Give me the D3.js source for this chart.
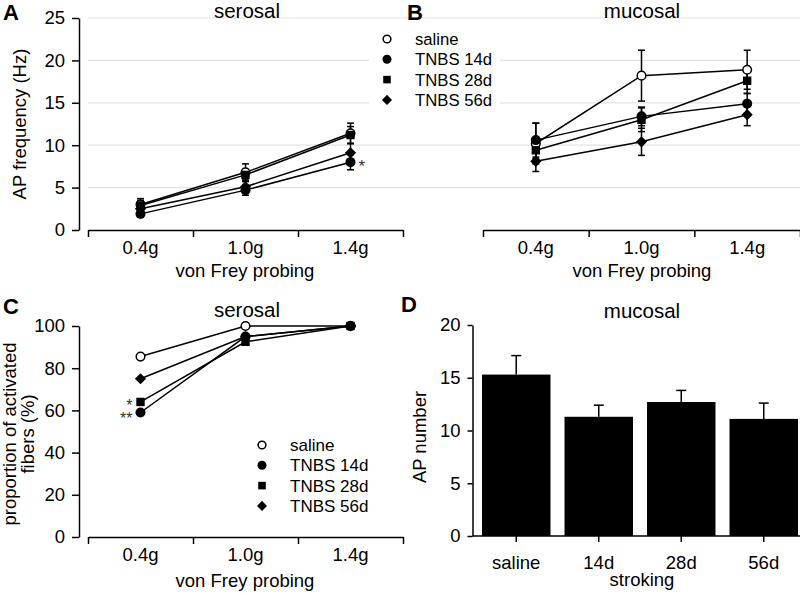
<!DOCTYPE html>
<html>
<head>
<meta charset="utf-8">
<script src="https://cdn.jsdelivr.net/npm/d3@7"></script>
<style>
  html, body { margin: 0; padding: 0; background: #fff; }
  svg { display: block; font-family: "Liberation Sans", Arial, sans-serif; }
</style>
</head>
<body>
<svg id="chart" width="800" height="593"></svg>
<script>
// ---------- DATA ----------
const probeCats = ["0.4g", "1.0g", "1.4g"];
const groupNames = ["saline", "TNBS 14d", "TNBS 28d", "TNBS 56d"];
const groupShapes = ["openCircle", "circle", "square", "diamond"];

// Panel A: serosal AP frequency (Hz)
const aSaline = [3.0, 6.8, 11.4];
const aSalineErr = [0.7, 1.0, 1.2];
const aTnbs14 = [1.9, 4.7, 8.0];
const aTnbs14Err = [0.4, 0.6, 0.9];
const aTnbs28 = [2.9, 6.5, 11.2];
const aTnbs28Err = [0.6, 0.5, 1.0];
const aTnbs56 = [2.5, 5.1, 9.1];
const aTnbs56Err = [0.5, 0.6, 1.1];

// Panel B: mucosal AP frequency (Hz)
const bSaline = [10.2, 18.2, 18.9];
const bSalineErr = [2.4, 3.0, 2.3];
const bTnbs14 = [10.6, 13.4, 14.9];
const bTnbs14Err = [2.0, 1.1, 1.2];
const bTnbs28 = [9.4, 13.0, 17.6];
const bTnbs28Err = [1.0, 1.4, 1.5];
const bTnbs56 = [8.1, 10.4, 13.6];
const bTnbs56Err = [1.2, 1.6, 1.3];

// Panel C: proportion of activated fibers (%)
const cSaline = [85.5, 100, 100];
const cTnbs14 = [59, 95, 100];
const cTnbs28 = [64, 92.5, 100];
const cTnbs56 = [75, 95, 100];

// Panel D: mucosal stroking AP number
const dCats = ["saline", "14d", "28d", "56d"];
const dValues = [15.3, 11.3, 12.7, 11.1];
const dErr = [1.8, 1.1, 1.1, 1.5];

const freqTicks = [0, 5, 10, 15, 20, 25];
const propTicks = [0, 20, 40, 60, 80, 100];
const apTicks = [0, 5, 10, 15, 20];

// ---------- DRAWING ----------
const svg = d3.select("#chart");
const FONT = 18.5;
const gridColor = "#e4e4e4";

function marker(g, shape, x, y, size) {
  const s = size || 1;
  if (shape === "openCircle") {
    g.append("circle").attr("cx", x).attr("cy", y).attr("r", 4.3 * s)
      .attr("fill", "#fff").attr("stroke", "#000").attr("stroke-width", 1.5);
  } else if (shape === "circle") {
    g.append("circle").attr("cx", x).attr("cy", y).attr("r", 5 * s).attr("fill", "#000");
  } else if (shape === "square") {
    const h = 4.2 * s;
    g.append("rect").attr("x", x - h).attr("y", y - h).attr("width", 2 * h).attr("height", 2 * h).attr("fill", "#000");
  } else {
    const h = 5.6 * s;
    g.append("path").attr("d", `M${x},${y - h}L${x + h},${y}L${x},${y + h}L${x - h},${y}Z`).attr("fill", "#000");
  }
}

function styleAxis(g) {
  g.selectAll("path.domain").attr("stroke", "#000").attr("stroke-width", 1.5);
  g.selectAll(".tick line").attr("stroke", "#000").attr("stroke-width", 1.5);
  g.selectAll(".tick text").attr("font-size", FONT).attr("fill", "#000")
    .attr("font-family", '"Liberation Sans", Arial, sans-serif');
}

// Category x-axis with boundary ticks
function catAxis(x0, x1, yPos, cats) {
  const band = d3.scaleBand().domain(cats).range([x0, x1]).padding(0);
  const bounds = d3.scaleLinear().domain([0, cats.length]).range([x0, x1]);
  const gb = svg.append("g").attr("transform", `translate(0,${yPos})`)
    .call(d3.axisBottom(bounds).tickValues(d3.range(cats.length + 1)).tickFormat("").tickSize(7).tickSizeOuter(0));
  styleAxis(gb);
  const gl = svg.append("g").attr("transform", `translate(0,${yPos})`)
    .call(d3.axisBottom(band).tickSize(0).tickPadding(11));
  gl.select("path.domain").remove();
  styleAxis(gl);
  return band;
}

function yAxis(xPos, y, ticks, tickSize) {
  const g = svg.append("g").attr("transform", `translate(${xPos},0)`)
    .call(d3.axisLeft(y).tickValues(ticks).tickSize(tickSize).tickPadding(7).tickSizeOuter(0));
  styleAxis(g);
}

function text(x, y, str, opts) {
  const o = opts || {};
  const t = svg.append("text").attr("x", x).attr("y", y).text(str)
    .attr("font-size", o.size || FONT).attr("fill", o.fill || "#000")
    .attr("text-anchor", o.anchor || "start");
  if (o.bold) t.attr("font-weight", "bold");
  if (o.rotate) t.attr("transform", `rotate(-90,${x},${y})`);
  return t;
}

function lineSeries(band, y, seriesList, errList, cats) {
  const cx = c => band(c) + band.bandwidth() / 2;
  const line = d3.line().x((d, i) => cx(cats[i])).y(d => y(d));
  const g = svg.append("g");
  seriesList.forEach(vals => {
    g.append("path").attr("d", line(vals)).attr("fill", "none").attr("stroke", "#000").attr("stroke-width", 1.5);
  });
  if (errList) {
    seriesList.forEach((vals, si) => {
      vals.forEach((v, i) => {
        const e = errList[si][i];
        const x = cx(cats[i]);
        g.append("line").attr("x1", x).attr("x2", x).attr("y1", y(v - e)).attr("y2", y(v + e))
          .attr("stroke", "#000").attr("stroke-width", 1.5);
        [v - e, v + e].forEach(ev => {
          g.append("line").attr("x1", x - 3.5).attr("x2", x + 3.5).attr("y1", y(ev)).attr("y2", y(ev))
            .attr("stroke", "#000").attr("stroke-width", 1.5);
        });
      });
    });
  }
  seriesList.forEach((vals, si) => {
    vals.forEach((v, i) => marker(g, groupShapes[si], cx(cats[i]), y(v)));
  });
}

// ---------- Panels A & B ----------
const yFreq = d3.scaleLinear().domain([0, 25]).range([230, 18]);

// gridlines across A and B
const gridG = svg.append("g");
freqTicks.filter(t => t > 0).forEach(t => {
  gridG.append("line").attr("x1", 88).attr("x2", 800).attr("y1", yFreq(t)).attr("y2", yFreq(t))
    .attr("stroke", gridColor).attr("stroke-width", 1.2);
});
// legend background (covers gridlines)
svg.append("rect").attr("x", 369).attr("y", 26).attr("width", 131).attr("height", 86).attr("fill", "#fff");

yAxis(79, yFreq, freqTicks, 7);
const bandA = catAxis(88, 403, 230, probeCats);
const bandB = catAxis(483, 800, 230, probeCats);

lineSeries(bandA, yFreq, [aSaline, aTnbs14, aTnbs28, aTnbs56],
  [aSalineErr, aTnbs14Err, aTnbs28Err, aTnbs56Err], probeCats);
lineSeries(bandB, yFreq, [bSaline, bTnbs14, bTnbs28, bTnbs56],
  [bSalineErr, bTnbs14Err, bTnbs28Err, bTnbs56Err], probeCats);

// star in A
text(bandA("1.4g") + bandA.bandwidth() / 2 + 8, yFreq(aTnbs14[2]) + 10, "*", { size: 17, fill: "#333" });

// legend A/B
const legG = svg.append("g");
groupNames.forEach((n, i) => {
  const ly = 39 + i * 20.3;
  marker(legG, groupShapes[i], 387, ly, 0.9);
  text(415, ly + 6, n, { size: 16.7 });
});

text(3, 20, "A", { size: 22, bold: true });
text(407, 20, "B", { size: 22, bold: true });
text(247, 18, "serosal", { size: 20.5, anchor: "middle" });
text(642, 18, "mucosal", { size: 20.5, anchor: "middle" });
text(26, 124, "AP frequency (Hz)", { anchor: "middle", rotate: true });
text(245, 277, "von Frey probing", { anchor: "middle" });
text(642, 277, "von Frey probing", { anchor: "middle" });

// ---------- Panel C ----------
const yProp = d3.scaleLinear().domain([0, 100]).range([537, 326]);
yAxis(79, yProp, propTicks, 7);
const bandC = catAxis(88, 403, 537, probeCats);
lineSeries(bandC, yProp, [cSaline, cTnbs14, cTnbs28, cTnbs56], null, probeCats);

// significance stars in C (one text element, two lines)
const cx04 = bandC("0.4g") + bandC.bandwidth() / 2;
const starT = svg.append("text").attr("font-size", 16).attr("fill", "#333").attr("text-anchor", "end");
starT.append("tspan").attr("x", cx04 - 8).attr("y", yProp(cTnbs28[0]) + 9).text("*");
starT.append("tspan").attr("x", cx04 - 8).attr("y", yProp(cTnbs14[0]) + 11).text("**");

const legC = svg.append("g");
groupNames.forEach((n, i) => {
  const ly = 445 + i * 20.3;
  marker(legC, groupShapes[i], 262, ly, 0.9);
  text(290, ly + 6, n, { size: 17 });
});

text(3, 314, "C", { size: 22, bold: true });
text(247, 317, "serosal", { size: 20.5, anchor: "middle" });
text(16, 434, "proportion of activated", { anchor: "middle", rotate: true });
text(34, 434, "fibers (%)", { anchor: "middle", rotate: true });
text(245, 587, "von Frey probing", { anchor: "middle" });

// ---------- Panel D ----------
const yAP = d3.scaleLinear().domain([0, 20]).range([536, 325]);
const xD = d3.scaleBand().domain(dCats).range([482, 798]).paddingInner(0.17).paddingOuter(0);
yAxis(472.5, yAP, apTicks, 5);
const gD = svg.append("g").attr("transform", "translate(0,536)")
  .call(d3.axisBottom(xD).tickSize(6).tickSizeOuter(0).tickPadding(14));
gD.select("path.domain").attr("d", "M472.5,0H800");
styleAxis(gD);

const barsG = svg.append("g");
dCats.forEach((c, i) => {
  const x = xD(c), w = xD.bandwidth();
  const cxb = x + w / 2;
  barsG.append("line").attr("x1", cxb).attr("x2", cxb).attr("y1", yAP(dValues[i])).attr("y2", yAP(dValues[i] + dErr[i]))
    .attr("stroke", "#000").attr("stroke-width", 1.5);
  barsG.append("line").attr("x1", cxb - 5).attr("x2", cxb + 5).attr("y1", yAP(dValues[i] + dErr[i])).attr("y2", yAP(dValues[i] + dErr[i]))
    .attr("stroke", "#000").attr("stroke-width", 1.5);
  barsG.append("rect").attr("x", x).attr("y", yAP(dValues[i])).attr("width", w)
    .attr("height", yAP(0) - yAP(dValues[i])).attr("fill", "#000");
});

text(401, 312, "D", { size: 22, bold: true });
text(642, 318, "mucosal", { size: 20.5, anchor: "middle" });
text(426, 437, "AP number", { anchor: "middle", rotate: true });
text(642, 586, "stroking", { anchor: "middle" });
</script>
</body>
</html>
